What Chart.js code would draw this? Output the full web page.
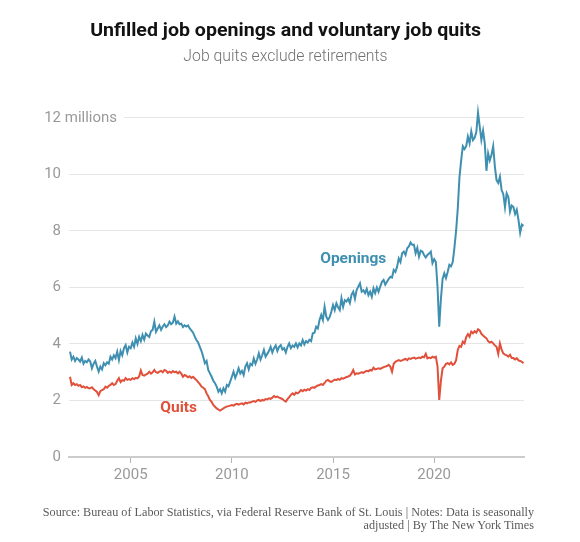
<!DOCTYPE html>
<html>
<head>
<meta charset="utf-8">
<script src="https://cdn.jsdelivr.net/npm/chart.js@4.4.1/dist/chart.umd.min.js"></script>
<style>
  html, body { margin:0; padding:0; background:#fff; }
  #wrap { position:relative; width:580px; height:542px; }
  #c { position:absolute; left:0; top:0; }
  .title { position:absolute; left:0; width:571px; top:19px; text-align:center; white-space:nowrap;
           font:bold 19px Roboto, "Liberation Sans", sans-serif; color:#121212; line-height:22px; }
  .title span { display:inline-block; transform-origin:center; }
  .sub { position:absolute; left:0; width:571px; top:46px; text-align:center;
         font:300 15.8px Roboto, "Liberation Sans", sans-serif; color:#727272; line-height:20px; }
  .src { position:absolute; right:46px; top:506px; text-align:right; white-space:nowrap;
         font:12.2px "Liberation Serif", "DejaVu Serif", serif; color:#5a5a5a; line-height:12.5px; }
</style>
</head>
<body>
<div id="wrap">
  <canvas id="c" width="580" height="542"></canvas>
  <div class="title"><span id="tt">Unfilled job openings and voluntary job quits</span></div>
  <div class="sub">Job quits exclude retirements</div>
  <div class="src">Source: Bureau of Labor Statistics, via Federal Reserve Bank of St. Louis | Notes: Data is seasonally<br>adjusted | By The New York Times</div>
</div>
<script>
// ---- Data (millions, monthly, seasonally adjusted) ----
const startYear = 2002; // first month: January 2002
const seriesNames = ["Openings", "Quits"];
const xTickYears = [2005, 2010, 2015, 2020];
const yTickValues = [0, 2, 4, 6, 8, 10, 12];

const openings = [
  3.73,3.45,3.55,3.40,3.50,3.45,3.38,3.52,3.30,3.40,3.35,3.45, // 2002
  3.38,3.14,3.30,3.40,3.20,3.02,3.20,3.10,3.32,3.25,3.35,3.30, // 2003
  3.55,3.45,3.60,3.50,3.73,3.43,3.75,3.60,3.85,3.96,3.70,3.90, // 2004
  3.85,4.05,3.90,4.20,4.00,4.25,4.10,4.32,4.15,4.37,4.30,4.25, // 2005
  4.45,4.50,4.79,4.43,4.55,4.66,4.50,4.62,4.70,4.60,4.66,4.79, // 2006
  4.70,4.75,4.97,4.72,4.80,4.70,4.72,4.60,4.66,4.62,4.66,4.55, // 2007
  4.48,4.40,4.26,4.14,4.05,3.90,3.75,3.55,3.32,3.40,3.08,2.96, // 2008
  2.84,2.70,2.61,2.49,2.31,2.40,2.25,2.43,2.31,2.55,2.50,2.67, // 2009
  2.84,3.02,2.80,2.95,3.14,2.96,3.05,2.90,3.20,3.32,3.10,3.30, // 2010
  3.25,3.49,3.30,3.45,3.67,3.45,3.60,3.79,3.55,3.65,3.75,3.90, // 2011
  3.70,3.85,3.95,3.75,3.90,3.96,3.80,3.85,3.70,3.90,4.02,3.85, // 2012
  3.95,3.90,4.02,3.88,4.02,3.95,4.14,3.98,4.10,4.05,4.15,4.10, // 2013
  4.38,4.40,4.61,4.55,4.85,5.03,4.85,5.32,4.97,4.85,4.95,5.14, // 2014
  5.38,5.20,5.44,5.30,5.20,5.62,5.32,5.55,5.50,5.60,5.45,5.75, // 2015
  5.85,5.60,5.91,6.03,6.15,5.85,5.90,5.80,5.95,5.73,5.85,5.67, // 2016
  5.97,5.80,6.00,5.85,6.03,6.20,6.27,6.10,6.20,6.30,6.38,6.35, // 2017
  6.62,6.55,6.73,7.03,6.90,7.21,7.27,7.15,7.39,7.45,7.59,7.51, // 2018
  7.51,7.21,7.40,7.09,7.30,7.27,7.15,7.06,7.15,7.20,7.27,6.86, // 2019
  7.00,6.90,6.00,4.61,5.60,6.30,6.50,6.33,6.55,6.80,6.75,6.90, // 2020
  7.40,8.00,8.80,9.90,10.50,11.00,10.90,11.00,11.34,11.10,11.52,11.22, // 2021
  11.30,11.50,12.19,11.70,11.22,11.55,11.10,10.13,10.75,10.50,10.70,11.00, // 2022
  10.28,9.80,9.70,9.92,9.45,9.30,8.84,9.33,9.20,8.68,8.90,8.85, // 2023
  8.60,8.75,8.39,7.94,8.23,8.18 // 2024
];

const quits = [
  2.84,2.55,2.61,2.55,2.58,2.52,2.55,2.47,2.50,2.45,2.48,2.43, // 2002
  2.43,2.47,2.40,2.35,2.30,2.19,2.33,2.37,2.40,2.49,2.45,2.52, // 2003
  2.55,2.61,2.55,2.58,2.70,2.79,2.65,2.72,2.70,2.79,2.73,2.76, // 2004
  2.73,2.79,2.76,2.80,2.78,2.85,3.06,2.90,2.88,2.92,2.95,3.02, // 2005
  2.95,3.00,3.08,3.00,2.98,3.02,3.05,3.00,3.08,3.05,2.98,3.02, // 2006
  2.98,3.04,3.00,3.02,2.96,3.02,2.95,2.84,2.90,2.87,2.82,2.86, // 2007
  2.80,2.84,2.78,2.72,2.65,2.58,2.49,2.45,2.40,2.25,2.15,2.02, // 2008
  1.95,1.84,1.78,1.72,1.68,1.64,1.68,1.72,1.76,1.79,1.80,1.82, // 2009
  1.84,1.82,1.86,1.88,1.85,1.88,1.90,1.86,1.92,1.90,1.93,1.93, // 2010
  1.96,1.98,1.95,2.00,2.02,1.98,2.02,2.00,2.05,2.04,2.08,2.06, // 2011
  2.10,2.16,2.12,2.14,2.10,2.08,2.05,2.00,1.96,2.05,2.12,2.20, // 2012
  2.25,2.20,2.28,2.25,2.30,2.37,2.33,2.38,2.35,2.40,2.37,2.45, // 2013
  2.47,2.45,2.50,2.53,2.55,2.58,2.55,2.62,2.70,2.73,2.68,2.66, // 2014
  2.70,2.74,2.72,2.76,2.73,2.79,2.77,2.80,2.83,2.85,2.88,2.96, // 2015
  3.08,2.92,2.96,2.95,2.98,3.00,2.98,3.02,3.05,3.03,3.08,3.06, // 2016
  3.16,3.10,3.12,3.14,3.12,3.15,3.18,3.20,3.22,3.26,3.20,3.02, // 2017
  3.30,3.37,3.40,3.43,3.40,3.42,3.45,3.47,3.43,3.49,3.47,3.50, // 2018
  3.52,3.48,3.50,3.52,3.50,3.55,3.53,3.65,3.49,3.52,3.50,3.55, // 2019
  3.52,3.55,3.20,2.02,2.70,3.14,3.20,3.30,3.32,3.28,3.35,3.26, // 2020
  3.30,3.43,3.79,3.93,3.90,4.08,4.02,4.24,4.35,4.26,4.44,4.38, // 2021
  4.45,4.40,4.52,4.48,4.36,4.30,4.25,4.20,4.10,4.05,4.08,4.02, // 2022
  3.95,3.90,3.65,4.02,3.80,3.67,3.62,3.60,3.55,3.62,3.50,3.50, // 2023
  3.45,3.50,3.42,3.40,3.37,3.32 // 2024
];

// label anchor positions (data coordinates: year, millions)
const labelAnchors = { Openings: [2016.0, 7.0], Quits: [2007.37, 1.73] };

const colors = { Openings: '#3f8fb1', Quits: '#e0503a' };

const toPoints = arr => arr.map((v, i) => ({ x: startYear + i / 12, y: v }));

// fit title width
(function(){
  const el = document.getElementById('tt');
  const w = el.getBoundingClientRect().width;
  const target = 391;
  if (w > 0) el.style.transform = 'scaleX(' + (target / w) + ')';
})();

const extras = {
  id: 'extras',
  beforeDatasetsDraw(chart) {
    const { ctx, chartArea, scales: { y } } = chart;
    const yy = y.getPixelForValue(12);
    ctx.save();
    ctx.fillStyle = '#fff';
    ctx.fillRect(chartArea.left - 1, yy - 3, 56, 6);
    ctx.font = '15px Roboto';
    ctx.fillStyle = '#999';
    ctx.textAlign = 'left';
    ctx.textBaseline = 'middle';
    ctx.fillText(' millions', chartArea.left - 8, yy);
    ctx.restore();
  },
  afterDatasetsDraw(chart) {
    const { ctx, scales: { x, y } } = chart;
    ctx.save();
    ctx.textAlign = 'center';
    ctx.textBaseline = 'middle';
    seriesNames.forEach(n => {
      const [ax, ay] = labelAnchors[n];
      ctx.font = 'bold 15.5px Roboto';
      ctx.fillStyle = colors[n];
      ctx.fillText(n, x.getPixelForValue(ax), y.getPixelForValue(ay));
    });
    ctx.restore();
  }
};

new Chart(document.getElementById('c'), {
  type: 'line',
  data: {
    datasets: [
      { label: 'Openings', data: toPoints(openings), borderColor: colors.Openings, borderWidth: 2, pointRadius: 0, tension: 0 },
      { label: 'Quits', data: toPoints(quits), borderColor: colors.Quits, borderWidth: 2, pointRadius: 0, tension: 0 }
    ]
  },
  options: {
    responsive: false,
    animation: false,
    events: [],
    layout: { padding: { left: 0, right: 56, top: 101, bottom: 55 } },
    plugins: { legend: { display: false }, tooltip: { enabled: false }, title: { display: false } },
    scales: {
      x: {
        type: 'linear',
        min: 2001.95,
        max: 2024.44,
        afterBuildTicks: s => { s.ticks = xTickYears.map(v => ({ value: v })); },
        afterFit: s => { s.height = 30; },
        grid: { display: true, drawOnChartArea: false, drawTicks: true, tickLength: 6, color: '#b5b5b5', lineWidth: 1 },
        border: { display: true, color: '#cccccc', width: 2 },
        ticks: { callback: v => String(v), font: { family: 'Roboto', size: 15 }, color: '#999', padding: 3, maxRotation: 0 }
      },
      y: {
        type: 'linear',
        min: 0,
        max: 12.6,
        afterBuildTicks: s => { s.ticks = yTickValues.map(v => ({ value: v })); },
        afterFit: s => { s.width = 69; },
        grid: { display: true, drawTicks: false, color: '#e6e6e6', lineWidth: 1 },
        border: { display: false },
        ticks: { callback: v => String(v), font: { family: 'Roboto', size: 15 }, color: '#999', padding: 8 }
      }
    }
  },
  plugins: [extras]
});
</script>
</body>
</html>
